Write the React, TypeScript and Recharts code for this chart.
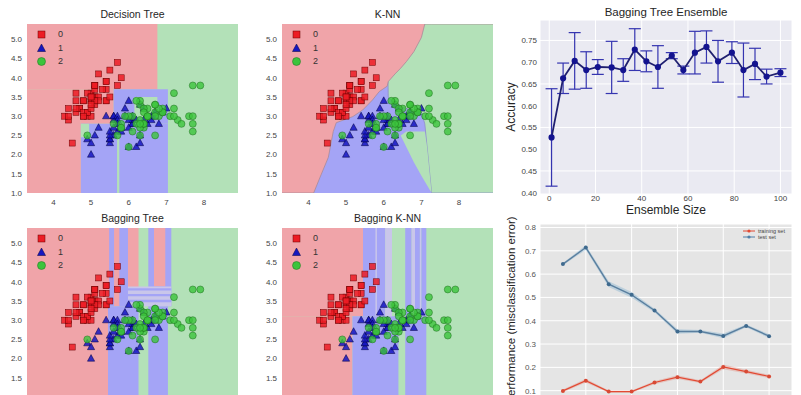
import {
  ComposedChart,
  LineChart,
  Line,
  Area,
  Scatter,
  XAxis,
  YAxis,
  CartesianGrid,
  ReferenceArea,
  ErrorBar,
} from "recharts";

const font = '"Liberation Sans", Arial, sans-serif';

// iris: sepal length, sepal width
const setosa = [
  [5.1, 3.5], [4.9, 3.0], [4.7, 3.2], [4.6, 3.1], [5.0, 3.6], [5.4, 3.9], [4.6, 3.4], [5.0, 3.4], [4.4, 2.9], [4.9, 3.1],
  [5.4, 3.7], [4.8, 3.4], [4.8, 3.0], [4.3, 3.0], [5.8, 4.0], [5.7, 4.4], [5.4, 3.9], [5.1, 3.5], [5.7, 3.8], [5.1, 3.8],
  [5.4, 3.4], [5.1, 3.7], [4.6, 3.6], [5.1, 3.3], [4.8, 3.4], [5.0, 3.0], [5.0, 3.4], [5.2, 3.5], [5.2, 3.4], [4.7, 3.2],
  [4.8, 3.1], [5.4, 3.4], [5.2, 4.1], [5.5, 4.2], [4.9, 3.1], [5.0, 3.2], [5.5, 3.5], [4.9, 3.6], [4.4, 3.0], [5.1, 3.4],
  [5.0, 3.5], [4.5, 2.3], [4.4, 3.2], [5.0, 3.5], [5.1, 3.8], [4.8, 3.0], [5.1, 3.8], [4.6, 3.2], [5.3, 3.7], [5.0, 3.3],
];
const versicolor = [
  [7.0, 3.2], [6.4, 3.2], [6.9, 3.1], [5.5, 2.3], [6.5, 2.8], [5.7, 2.8], [6.3, 3.3], [4.9, 2.4], [6.6, 2.9], [5.2, 2.7],
  [5.0, 2.0], [5.9, 3.0], [6.0, 2.2], [6.1, 2.9], [5.6, 2.9], [6.7, 3.1], [5.6, 3.0], [5.8, 2.7], [6.2, 2.2], [5.6, 2.5],
  [5.9, 3.2], [6.1, 2.8], [6.3, 2.5], [6.1, 2.8], [6.4, 2.9], [6.6, 3.0], [6.8, 2.8], [6.7, 3.0], [6.0, 2.9], [5.7, 2.6],
  [5.5, 2.4], [5.5, 2.4], [5.8, 2.7], [6.0, 2.7], [5.4, 3.0], [6.0, 3.4], [6.7, 3.1], [6.3, 2.3], [5.6, 3.0], [5.5, 2.5],
  [5.5, 2.6], [6.1, 3.0], [5.8, 2.6], [5.0, 2.3], [5.6, 2.7], [5.7, 3.0], [5.7, 2.9], [6.2, 2.9], [5.1, 2.5], [5.7, 2.8],
];
const virginica = [
  [6.3, 3.3], [5.8, 2.7], [7.1, 3.0], [6.3, 2.9], [6.5, 3.0], [7.6, 3.0], [4.9, 2.5], [7.3, 2.9], [6.7, 2.5], [7.2, 3.6],
  [6.5, 3.2], [6.4, 2.7], [6.8, 3.0], [5.7, 2.5], [5.8, 2.8], [6.4, 3.2], [6.5, 3.0], [7.7, 3.8], [7.7, 2.6], [6.0, 2.2],
  [6.9, 3.2], [5.6, 2.8], [7.7, 2.8], [6.3, 2.7], [6.7, 3.3], [7.2, 3.2], [6.2, 2.8], [6.1, 3.0], [6.4, 2.8], [7.2, 3.0],
  [7.4, 2.8], [7.9, 3.8], [6.4, 2.8], [6.3, 2.8], [6.1, 2.6], [7.7, 3.0], [6.3, 3.4], [6.4, 3.1], [6.0, 3.0], [6.9, 3.1],
  [6.7, 3.1], [6.9, 3.1], [5.8, 2.7], [6.8, 3.2], [6.7, 3.3], [6.7, 3.0], [6.3, 2.5], [6.5, 3.0], [6.2, 3.4], [5.9, 3.0],
];

const irisXTicks = [4, 5, 6, 7, 8];
const irisYTicks = [1.0, 1.5, 2.0, 2.5, 3.0, 3.5, 4.0, 4.5, 5.0];
const irisXRange = [3.3, 8.9];
const irisYRange = [1.0, 5.4];

// decision regions as [x1, x2, y1, y2, class], painted in order over class 2
// class 3 = mixed / striped zones
const treeRegions = [
  [3.3, 6.76, 3.7, 5.4, 0],
  [3.3, 4.73, 1.0, 3.7, 0],
  [4.73, 5.6, 2.8, 3.7, 0],
  [4.73, 7.04, 1.0, 2.8, 1],
  [5.6, 7.04, 2.8, 3.7, 1],
  [4.73, 4.95, 2.45, 2.8, 2],
  [5.69, 5.75, 1.0, 2.45, 2],
  [6.15, 6.76, 2.95, 3.5, 2],
];
const baggingTreeRegions = [
  [3.3, 5.45, 1.0, 5.4, 0],
  [5.45, 6.26, 3.36, 5.4, 0],
  [5.48, 5.61, 3.36, 5.4, 1],
  [5.75, 5.98, 3.36, 5.4, 1],
  [6.52, 7.13, 3.36, 5.4, 1],
  [6.67, 6.97, 3.88, 5.4, 0],
  [5.45, 6.26, 1.0, 3.36, 1],
  [6.52, 7.04, 1.0, 3.36, 1],
  [5.98, 7.13, 3.36, 3.88, 3],
  [5.98, 7.13, 3.47, 3.53, 1],
  [5.98, 7.13, 3.62, 3.68, 1],
  [5.98, 7.13, 3.77, 3.83, 1],
];
const baggingKnnRegions = [
  [3.3, 5.45, 3.1, 5.4, 0],
  [3.3, 5.17, 1.0, 3.1, 0],
  [5.17, 6.39, 1.0, 3.1, 1],
  [5.45, 6.04, 3.1, 5.4, 1],
  [5.78, 5.82, 3.1, 5.4, 3],
  [6.04, 6.22, 3.1, 5.4, 3],
  [6.57, 7.13, 1.0, 3.1, 1],
  [6.57, 6.74, 3.1, 5.4, 1],
  [6.74, 6.83, 3.1, 5.4, 3],
  [6.83, 6.96, 3.1, 5.4, 1],
  [6.96, 7.0, 3.1, 5.4, 3],
  [7.0, 7.13, 3.1, 5.4, 1],
];

// K-NN boundaries on a shared x grid
const knnX = [3.3, 4.14, 4.31, 4.53, 4.66, 4.74, 5.18, 5.44, 5.7, 5.88, 6.09, 6.12, 6.3, 6.45, 6.6, 6.8, 7.0, 7.09, 7.15, 7.27, 8.9];
const knnRedLow = [1.0, 1.0, 1.41, 1.93, 2.6, 2.83, 2.99, 3.16, 3.42, 3.64, 3.78, 3.9, 4.1, 4.25, 4.42, 4.68, 5.05, 5.4, 5.4, 5.4, 5.4];
const knnBlueTop = [5.4, 5.4, 5.4, 5.4, 5.4, 5.4, 5.4, 5.4, 5.4, 5.4, 5.4, 3.5, 3.3, 3.25, 3.2, 3.15, 3.1, 2.8, 2.2, 1.0, 1.0];
const knnGreenLow = [1.0, 1.0, 1.0, 1.0, 1.0, 1.0, 1.0, 1.0, 1.0, 1.0, 1.0, 1.0, 1.0, 2.5, 2.2, 1.8, 1.45, 1.3, 1.2, 1.0, 1.0];
const knnGreenHigh = [1.0, 1.0, 1.0, 1.0, 1.0, 1.0, 1.0, 1.0, 1.0, 1.0, 1.0, 1.0, 1.0, 2.5, 2.6, 2.6, 2.6, 2.6, 2.2, 1.0, 1.0];

// bagging tree ensemble
const ensembleSize = [1, 6, 11, 16, 21, 27, 32, 37, 42, 47, 53, 58, 63, 68, 73, 79, 84, 89, 94, 100];
const ensembleAcc = [0.527, 0.663, 0.703, 0.682, 0.689, 0.688, 0.682, 0.729, 0.702, 0.689, 0.715, 0.682, 0.722, 0.735, 0.702, 0.722, 0.682, 0.696, 0.667, 0.676];
const ensembleStd = [0.112, 0.035, 0.065, 0.042, 0.017, 0.06, 0.026, 0.048, 0.024, 0.049, 0.007, 0.009, 0.049, 0.037, 0.048, 0.025, 0.062, 0.036, 0.017, 0.009];
const ensembleXTicks = [0, 20, 40, 60, 80, 100];
const ensembleYTicks = [0.4, 0.45, 0.5, 0.55, 0.6, 0.65, 0.7, 0.75];

// learning curve
const steps = [1, 2, 3, 4, 5, 6, 7, 8, 9, 10];
const trainErr = [0.099, 0.143, 0.096, 0.096, 0.135, 0.158, 0.139, 0.202, 0.182, 0.161];
const trainStd = [0.006, 0.008, 0.005, 0.005, 0.007, 0.008, 0.006, 0.01, 0.008, 0.007];
const testErr = [0.643, 0.714, 0.557, 0.511, 0.444, 0.354, 0.354, 0.335, 0.378, 0.334];
const testStd = [0.005, 0.01, 0.012, 0.012, 0.008, 0.01, 0.006, 0.01, 0.006, 0.008];
const curveXTicks = [2, 4, 6, 8, 10];
const curveYTicks = [0, 0.1, 0.2, 0.3, 0.4, 0.5, 0.6, 0.7, 0.8];

const classFill = ["#F0A4A9", "#A4A4F6", "#B3E1B8", "#C9C6EA"];
const tickStyle = { fontSize: 8, fill: "#444", fontFamily: font };

const toPoints = (arr: number[][]) => arr.map(([x, y]) => ({ x, y }));

// regions run a bit past the axis limits so their outer edges get clipped
const knnTable = knnX.map((x, i) => ({
  x,
  red: [knnRedLow[i], irisYRange[1] + 0.2],
  blue: [irisYRange[0] - 0.2, knnBlueTop[i]],
  green: [knnGreenLow[i], knnGreenHigh[i]],
}));

const ensembleData = ensembleSize.map((size, i) => ({ size, acc: ensembleAcc[i], std: ensembleStd[i] }));

const curveData = steps.map((step, i) => ({
  step,
  train: trainErr[i],
  test: testErr[i],
  trainBand: [trainErr[i] - trainStd[i], trainErr[i] + trainStd[i]],
  testBand: [testErr[i] - testStd[i], testErr[i] + testStd[i]],
}));

function SquareDot(p: any) {
  return <rect x={p.cx - 3} y={p.cy - 3} width={6} height={6} fill="#ec1c24" fillOpacity={0.85} stroke="#6a0000" strokeWidth={0.5} />;
}
function TriangleDot(p: any) {
  const { cx, cy } = p;
  return (
    <polygon
      points={`${cx},${cy - 4} ${cx - 3.6},${cy + 2.6} ${cx + 3.6},${cy + 2.6}`}
      fill="#1616c0"
      fillOpacity={0.85}
      stroke="#000040"
      strokeWidth={0.5}
    />
  );
}
function CircleDot(p: any) {
  return <circle cx={p.cx} cy={p.cy} r={3.5} fill="#3cc43c" fillOpacity={0.8} stroke="#1f6f1f" strokeWidth={0.5} />;
}

function IrisLegend() {
  const shapes = [
    <rect x={2} y={2} width={7} height={7} fill="#ec1c24" stroke="#6a0000" strokeWidth={0.5} />,
    <polygon points="5.5,1 1.5,8.5 9.5,8.5" fill="#1616c0" stroke="#000040" strokeWidth={0.5} />,
    <circle cx={5.5} cy={5.5} r={4} fill="#3cc43c" stroke="#1f6f1f" strokeWidth={0.5} />,
  ];
  return (
    <div style={{ position: "absolute", left: 36, top: 29, fontSize: 9, color: "#333" }}>
      {shapes.map((s, i) => (
        <div key={i} style={{ position: "absolute", top: i * 13.5, left: 0, width: 40, height: 11 }}>
          <svg width={11} height={11} style={{ position: "absolute", left: 0, top: 0 }}>
            {s}
          </svg>
          <span style={{ position: "absolute", left: 22, top: 0, lineHeight: "11px" }}>{i}</span>
        </div>
      ))}
    </div>
  );
}

function DecisionPlot({ title, left, top, regions, knn }: any) {
  return (
    <div style={{ position: "absolute", left, top, width: 245, height: 212 }}>
      <div style={{ position: "absolute", left: 27, width: 211, top: 8, textAlign: "center", fontSize: 10.5, color: "#262626" }}>
        {title}
      </div>
      <ComposedChart width={245} height={212} data={knn ? knnTable : undefined} margin={{ top: 24, right: 7, bottom: 2, left: 0 }}>
        <CartesianGrid fill={classFill[2]} fillOpacity={1} stroke="none" />
        <XAxis
          type="number"
          dataKey="x"
          domain={irisXRange}
          ticks={irisXTicks}
          allowDataOverflow
          axisLine={false}
          tickLine={false}
          tickSize={0}
          tickMargin={6}
          height={17}
          tick={tickStyle}
        />
        <YAxis
          type="number"
          dataKey="y"
          domain={irisYRange}
          ticks={irisYTicks}
          allowDataOverflow
          axisLine={false}
          tickLine={false}
          tickSize={0}
          tickMargin={5}
          width={27}
          tick={tickStyle}
          tickFormatter={(v: number) => v.toFixed(1)}
        />
        {(regions || []).map((r: number[], i: number) => (
          <ReferenceArea key={i} x1={r[0]} x2={r[1]} y1={r[2]} y2={r[3]} fill={classFill[r[4]]} fillOpacity={1} stroke="none" ifOverflow="hidden" />
        ))}
        {knn && <Area type="linear" dataKey="blue" fill={classFill[1]} fillOpacity={1} stroke="#8e8ec8" strokeWidth={0.8} isAnimationActive={false} />}
        {knn && <Area type="linear" dataKey="green" fill={classFill[2]} fillOpacity={1} stroke="none" isAnimationActive={false} />}
        {knn && <Area type="linear" dataKey="red" fill={classFill[0]} fillOpacity={1} stroke="#a98a98" strokeWidth={0.8} isAnimationActive={false} />}
        <Scatter data={toPoints(setosa)} shape={SquareDot} isAnimationActive={false} />
        <Scatter data={toPoints(versicolor)} shape={TriangleDot} isAnimationActive={false} />
        <Scatter data={toPoints(virginica)} shape={CircleDot} isAnimationActive={false} />
      </ComposedChart>
      <IrisLegend />
    </div>
  );
}

function RotatedLabel({ x, y, text, size }: any) {
  return (
    <div
      style={{
        position: "absolute",
        left: x,
        top: y,
        transform: "translate(-50%, -50%) rotate(-90deg)",
        whiteSpace: "nowrap",
        fontSize: size,
        color: "#262626",
      }}
    >
      {text}
    </div>
  );
}

function EnsemblePlot() {
  return (
    <div style={{ position: "absolute", left: 500, top: 0, width: 301, height: 220 }}>
      <div style={{ position: "absolute", left: 40, width: 252, top: 6, textAlign: "center", fontSize: 11.5, color: "#262626" }}>
        Bagging Tree Ensemble
      </div>
      <LineChart width={301} height={220} data={ensembleData} margin={{ top: 20, right: 9, bottom: 0, left: 0 }}>
        <CartesianGrid fill="#EAEAF2" fillOpacity={1} stroke="#ffffff" strokeWidth={1} />
        <XAxis
          type="number"
          dataKey="size"
          domain={[-4, 105]}
          ticks={ensembleXTicks}
          axisLine={false}
          tickLine={false}
          tickSize={0}
          tickMargin={1}
          height={26}
          tick={tickStyle}
        />
        <YAxis
          type="number"
          domain={[0.397, 0.797]}
          ticks={ensembleYTicks}
          allowDataOverflow
          axisLine={false}
          tickLine={false}
          tickSize={0}
          tickMargin={3}
          width={40}
          tick={tickStyle}
          tickFormatter={(v: number) => v.toFixed(2)}
        />
        <Line
          dataKey="acc"
          stroke="#202070"
          strokeWidth={1.8}
          dot={{ r: 2.2, fill: "#14148f", stroke: "#14148f" }}
          isAnimationActive={false}
        >
          <ErrorBar dataKey="std" width={6} stroke="#3535b0" strokeWidth={1.2} direction="y" />
        </Line>
      </LineChart>
      <div style={{ position: "absolute", left: 40, width: 252, top: 203, textAlign: "center", fontSize: 12, color: "#262626" }}>
        Ensemble Size
      </div>
    </div>
  );
}

function CurveLegend() {
  const items = [
    { label: "training set", color: "#E24A33" },
    { label: "test set", color: "#4f7fa8" },
  ];
  return (
    <div style={{ position: "absolute", left: 243, top: 13, fontSize: 5.5, color: "#444" }}>
      {items.map((it, i) => (
        <div key={i} style={{ position: "absolute", top: i * 5.6, left: 0, width: 50, height: 6 }}>
          <svg width={12} height={6} style={{ position: "absolute", left: 0, top: 0 }}>
            <line x1={0} y1={3} x2={12} y2={3} stroke={it.color} strokeWidth={1} />
            <circle cx={6} cy={3} r={1.6} fill={it.color} />
          </svg>
          <span style={{ position: "absolute", left: 15, top: 0, lineHeight: "6px", whiteSpace: "nowrap" }}>{it.label}</span>
        </div>
      ))}
    </div>
  );
}

function CurvePlot() {
  return (
    <div style={{ position: "absolute", left: 500, top: 215, width: 301, height: 215 }}>
      <ComposedChart width={301} height={215} data={curveData} margin={{ top: 9, right: 9, bottom: 0, left: 0 }}>
        <CartesianGrid fill="#E5E5E5" fillOpacity={1} stroke="#ffffff" strokeWidth={1} />
        <XAxis
          type="number"
          dataKey="step"
          domain={[0, 11]}
          ticks={curveXTicks}
          axisLine={false}
          tickLine={false}
          tickSize={0}
          height={16}
          tick={tickStyle}
        />
        <YAxis
          type="number"
          domain={[0, 0.815]}
          ticks={curveYTicks}
          allowDataOverflow
          axisLine={false}
          tickLine={false}
          tickSize={0}
          tickMargin={4}
          width={40}
          tick={{ ...tickStyle, fill: "#555" }}
          tickFormatter={(v: number) => v.toFixed(1)}
        />
        <Area type="linear" dataKey="testBand" fill="#348ABD" fillOpacity={0.22} stroke="none" isAnimationActive={false} />
        <Area type="linear" dataKey="trainBand" fill="#E24A33" fillOpacity={0.22} stroke="none" isAnimationActive={false} />
        <Line dataKey="train" stroke="#E24A33" strokeWidth={1.2} dot={{ r: 2, fill: "#d84a35", stroke: "none" }} isAnimationActive={false} />
        <Line dataKey="test" stroke="#5a7f9f" strokeWidth={1.4} dot={{ r: 2, fill: "#3f6a8e", stroke: "none" }} isAnimationActive={false} />
      </ComposedChart>
      <CurveLegend />
    </div>
  );
}

export default function App() {
  return (
    <div
      style={{
        position: "fixed",
        left: 0,
        top: 0,
        width: 801,
        height: 395,
        overflow: "hidden",
        background: "#ffffff",
        fontFamily: font,
      }}
    >
      <DecisionPlot title="Decision Tree" left={0} top={0} regions={treeRegions} />
      <DecisionPlot title="K-NN" left={255} top={0} knn />
      <DecisionPlot title="Bagging Tree" left={0} top={204} regions={baggingTreeRegions} />
      <DecisionPlot title="Bagging K-NN" left={255} top={204} regions={baggingKnnRegions} />
      <EnsemblePlot />
      <CurvePlot />
      <RotatedLabel x={511} y={107} text="Accuracy" size={12} />
      <RotatedLabel x={511} y={310} text="Performance (misclassification error)" size={11.5} />
    </div>
  );
}
